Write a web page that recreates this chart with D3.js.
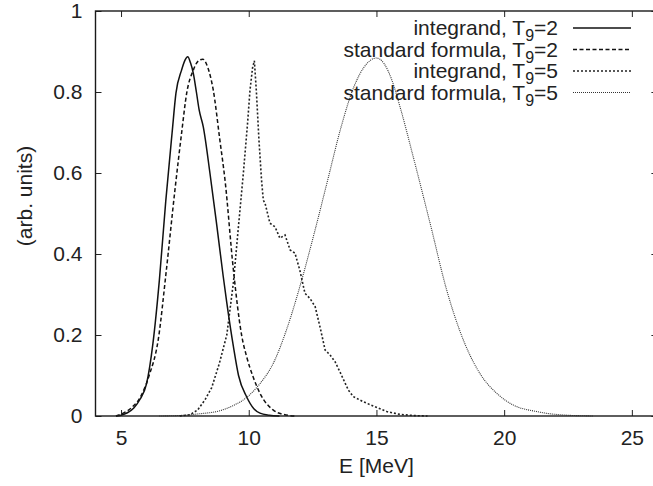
<!DOCTYPE html>
<html>
  <head>
    <meta charset="utf-8">
    <script src="https://d3js.org/d3.v7.min.js"></script>
    <style>
      body { margin: 0; background: #fff; }
      svg text { font-family: "Liberation Sans", Arial, sans-serif; fill: #222; }
    </style>
  </head>
  <body>
    <svg width="653" height="486"></svg>
    <script>

    // curves: [E in MeV, value]
    var integrandT2 = [[4.8,0],[5.0,0.002],[5.25,0.008],[5.5,0.02],[5.75,0.042],[6.0,0.08],[6.25,0.18],[6.5,0.335],
      [6.75,0.53],[7.0,0.70],[7.15,0.797],[7.37,0.854],[7.5,0.878],[7.61,0.887],[7.72,0.872],[7.83,0.846],[7.95,0.80],
      [8.06,0.755],[8.22,0.714],[8.48,0.60],[8.75,0.47],[9.0,0.345],[9.14,0.28],[9.4,0.171],[9.6,0.1],[9.92,0.047],
      [10.2,0.018],[10.44,0.007],[10.8,0.002],[11.2,0]];

    var standardT2 = [[4.8,0],[5.09,0.007],[5.4,0.02],[5.74,0.045],[6.1,0.1],[6.46,0.19],[6.76,0.352],[7.11,0.558],
      [7.37,0.698],[7.57,0.797],[7.83,0.854],[8.0,0.875],[8.2,0.881],[8.4,0.86],[8.61,0.805],[8.87,0.681],[9.07,0.583],
      [9.4,0.36],[9.72,0.2],[9.92,0.146],[10.18,0.095],[10.44,0.056],[10.95,0.015],[11.35,0.004],[11.8,0]];

    var integrandT5 = [[7.3,0],[7.7,0.003],[8.0,0.015],[8.29,0.04],[8.55,0.07],[8.85,0.13],[9.14,0.2],[9.4,0.33],
      [9.6,0.47],[9.79,0.6],[9.95,0.72],[10.05,0.805],[10.15,0.86],[10.22,0.877],[10.3,0.8],[10.4,0.681],[10.5,0.583],
      [10.57,0.533],[10.64,0.525],[10.83,0.476],[11.03,0.467],[11.22,0.439],[11.42,0.447],[11.62,0.41],[11.81,0.402],
      [12.0,0.36],[12.2,0.303],[12.4,0.29],[12.6,0.27],[12.79,0.22],[12.99,0.163],[13.18,0.151],[13.38,0.134],
      [13.57,0.109],[13.9,0.064],[14.09,0.048],[14.49,0.035],[14.94,0.023],[15.4,0.011],[15.92,0.004],[16.5,0.001],[17,0]];

    var standardT5 = [[6.5,0],[7.5,0.002],[8.0,0.005],[8.87,0.013],[9.4,0.026],[9.92,0.046],[10.44,0.08],
      [10.96,0.13],[11.49,0.215],[12.07,0.335],[12.6,0.46],[13.12,0.59],[13.6,0.71],[14.1,0.81],[14.5,0.86],
      [15.0,0.884],[15.3,0.87],[15.6,0.83],[15.92,0.764],[16.44,0.64],[17.1,0.476],[17.75,0.311],[18.4,0.188],
      [19.05,0.105],[19.71,0.056],[20.36,0.027],[21.27,0.011],[22.2,0.003],[23.5,0]];

    var legendNames = ["integrand", "standard formula", "integrand", "standard formula"];
    var legendT9 = ["2", "2", "5", "5"];
    var xTicks = [5, 10, 15, 20, 25];
    var yTicks = [0, 0.2, 0.4, 0.6, 0.8, 1];

    var svg = d3.select("svg");
    var fontSize = "21px";

    // plot frame; the right edge runs just past the picture like the original crop
    var plotLeft = 95.5, plotRight = 657.4, plotTop = 11, plotBottom = 416;
    var x = d3.scaleLinear().domain([4, 26]).range([plotLeft, plotRight]);
    var y = d3.scaleLinear().domain([0, 1]).range([plotBottom, plotTop]);

    // series styles (gnuplot-ish line types)
    var series = [
      {data: integrandT2, dash: null, width: 1.5, color: "#111"},
      {data: standardT2, dash: "4,2.5", width: 1.5, color: "#111"},
      {data: integrandT5, dash: "2,2", width: 1.6, color: "#222"},
      {data: standardT5, dash: "1,1", width: 1.1, color: "#333"}
    ];

    var line = d3.line()
      .x(function(d) { return x(d[0]); })
      .y(function(d) { return y(d[1]); });

    svg.selectAll("path.curve")
      .data(series)
      .enter()
      .append("path")
      .attr("class", "curve")
      .attr("fill", "none")
      .attr("stroke", function(d) { return d.color; })
      .attr("stroke-width", function(d) { return d.width; })
      .attr("stroke-dasharray", function(d) { return d.dash; })
      .attr("d", function(d, i) {
        // the T9=5 integrand is a stepped curve, keep it straight
        line.curve(i == 2 ? d3.curveLinear : d3.curveMonotoneX);
        return line(d.data);
      });

    // axes with mirrored ticks
    var tick = 6;
    var xAxisB = svg.append("g").attr("transform", "translate(0," + plotBottom + ")")
      .call(d3.axisBottom(x).tickValues(xTicks).tickSize(-tick).tickPadding(14).tickFormat(d3.format("d")));
    var xAxisT = svg.append("g").attr("transform", "translate(0," + plotTop + ")")
      .call(d3.axisTop(x).tickValues(xTicks).tickSize(-tick).tickFormat(""));
    var yAxisL = svg.append("g").attr("transform", "translate(" + plotLeft + ",0)")
      .call(d3.axisLeft(y).tickValues(yTicks).tickSize(-tick).tickPadding(13).tickFormat(function(d) { return String(+d.toFixed(1)); }));
    var yAxisR = svg.append("g").attr("transform", "translate(" + plotRight + ",0)")
      .call(d3.axisRight(y).tickValues(yTicks).tickSize(-tick).tickFormat(""));

    [xAxisB, xAxisT, yAxisL, yAxisR].forEach(function(g) {
      g.select(".domain").remove();
      g.selectAll("line").attr("stroke", "#222").attr("stroke-width", 1);
      g.selectAll("text").style("font-size", fontSize).attr("fill", "#222");
    });
    svg.selectAll("g").attr("font-family", null);

    svg.append("rect")
      .attr("x", plotLeft).attr("y", plotTop)
      .attr("width", plotRight - plotLeft).attr("height", plotBottom - plotTop)
      .attr("fill", "none").attr("stroke", "#1a1a1a").attr("stroke-width", 1.4);

    // axis titles
    svg.append("text")
      .attr("x", x(15)).attr("y", 473)
      .attr("text-anchor", "middle")
      .style("font-size", fontSize)
      .text("E [MeV]");

    svg.append("text")
      .attr("transform", "translate(32,196) rotate(-90)")
      .attr("text-anchor", "middle")
      .style("font-size", fontSize)
      .text("(arb. units)");

    // legend
    var legend = svg.append("g");
    legend.selectAll("g.entry")
      .data(series)
      .enter()
      .append("g")
      .attr("class", "entry")
      .attr("transform", function(d, i) { return "translate(0," + (28 + i * 21.5) + ")"; })
      .each(function(d, i) {
        var g = d3.select(this);
        var t = g.append("text")
          .attr("x", 558).attr("y", 7)
          .attr("text-anchor", "end")
          .style("font-size", fontSize);
        t.append("tspan").text(legendNames[i] + ", T");
        t.append("tspan").attr("dy", 6).style("font-size", "16px").text("9");
        t.append("tspan").attr("dy", -6).text("=" + legendT9[i]);
        g.append("line")
          .attr("x1", 573).attr("x2", 631)
          .attr("y1", 0).attr("y2", 0)
          .attr("stroke", d.color)
          .attr("stroke-width", d.width)
          .attr("stroke-dasharray", d.dash);
      });

    </script>
  </body>
</html>
